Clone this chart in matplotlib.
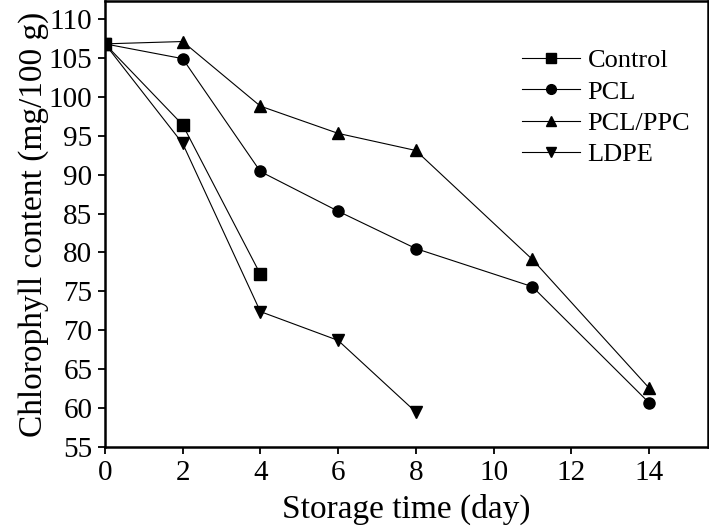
import matplotlib
matplotlib.use('Agg')
import matplotlib.pyplot as plt

plt.rcParams['font.family'] = ['Liberation Serif', 'DejaVu Serif']
plt.rc('font', size=15)

days_control = [0, 2, 4]
control = [106.8, 96.4, 77.2]
days_pcl = [0, 2, 4, 6, 8, 11, 14]
pcl = [106.8, 104.9, 90.4, 85.3, 80.5, 75.6, 60.7]
days_pclppc = [0, 2, 4, 6, 8, 11, 14]
pclppc = [106.8, 107.1, 98.8, 95.3, 93.1, 79.1, 62.6]
days_ldpe = [0, 2, 4, 6, 8]
ldpe = [106.8, 94.0, 72.4, 68.7, 59.5]

fig = plt.figure(figsize=(7.09, 5.28), dpi=100)
ax = fig.add_axes([0.148, 0.1534, 0.8506, 0.8446])

kw = dict(color='black', linewidth=0.8, markersize=8)
ax.plot(days_control, control, marker='s', label='Control', **kw)
ax.plot(days_pcl, pcl, marker='o', label='PCL', **kw)
ax.plot(days_pclppc, pclppc, marker='^', label='PCL/PPC', **kw)
ax.plot(days_ldpe, ldpe, marker='v', label='LDPE', **kw)

ax.set_xlim(0, 15.52)
ax.set_ylim(55, 112.3)
ax.set_xticks(range(0, 15, 2))
ax.set_yticks(range(55, 111, 5))
ax.tick_params(direction='out', length=5, width=1.3, labelsize=21, pad=4,
               top=False, right=False)
for s in ax.spines.values():
    s.set_linewidth(1.8)

ax.set_xlabel('Storage time (day)', fontsize=24, labelpad=6)
ax.set_ylabel('Chlorophyll content (mg/100 g)', fontsize=24, labelpad=0)

leg = ax.legend(loc='upper left', bbox_to_anchor=(0.691, 0.893), frameon=False,
                fontsize=19, handlelength=2.2, handletextpad=0.3, labelspacing=0.3,
                borderpad=0, borderaxespad=0)
for h in leg.legend_handles:
    h.set_markersize(7)

fig.savefig('out.png', dpi=100)
